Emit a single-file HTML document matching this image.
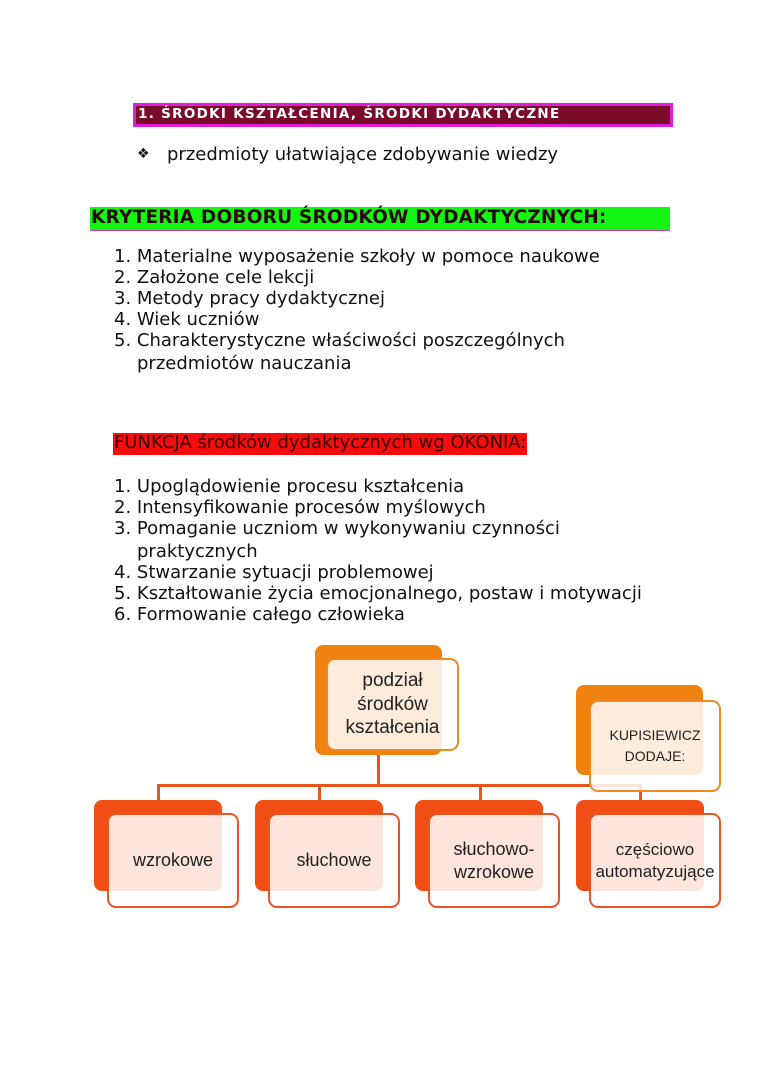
<!DOCTYPE html>
<html><head><meta charset="utf-8"><style>
body{margin:0;background:#fff;width:760px;height:1075px;position:relative;overflow:hidden;font-family:"DejaVu Sans",sans-serif;}
.a{position:absolute;white-space:nowrap;}
.t{font-size:18px;color:#111;}
.back{position:absolute;border-radius:8px;}
.front{position:absolute;border-radius:9px;border:2.5px solid;background:rgba(255,255,255,0.85);box-sizing:border-box;display:flex;align-items:center;justify-content:center;text-align:center;font-family:"Liberation Sans Narrow","Liberation Sans",sans-serif;font-size:18px;color:#222;line-height:1.25;}
.ln{position:absolute;background:#e8541e;}
</style></head><body>
<div class="a" style="left:133px;top:103px;width:540px;height:24px;box-sizing:border-box;border:3px solid #e01ce0;background:#7a0c2a;"></div>
<div class="a" style="left:138px;top:106px;font-size:13.5px;font-weight:bold;color:#fff;letter-spacing:1.3px;">1. ŚRODKI KSZTAŁCENIA, ŚRODKI DYDAKTYCZNE</div>
<div class="a t" style="left:137px;top:146px;font-size:14px;">❖</div>
<div class="a t" style="left:167px;top:144px;">przedmioty ułatwiające zdobywanie wiedzy</div>
<div class="a" style="left:90px;top:207px;width:580px;height:23px;background:#14f514;border-bottom:1px solid #c040c0;"></div>
<div class="a t" style="left:91px;top:207px;font-weight:bold;color:#2a0a0a;font-size:18.5px;letter-spacing:0.2px;">KRYTERIA DOBORU ŚRODKÓW DYDAKTYCZNYCH:</div>
<div class="a t" style="left:114px;top:246px;line-height:21px;">1. Materialne wyposażenie szkoły w pomoce naukowe<br>2. Założone cele lekcji<br>3. Metody pracy dydaktycznej<br>4. Wiek uczniów<br>5. Charakterystyczne właściwości poszczególnych</div>
<div class="a t" style="left:137px;top:353px;">przedmiotów nauczania</div>
<div class="a" style="left:113px;top:433px;width:414px;height:22px;background:#f50d0d;"></div>
<div class="a t" style="left:114px;top:432px;color:#3a0000;">FUNKCJA środków dydaktycznych wg OKONIA:</div>
<div class="a t" style="left:114px;top:476px;line-height:21px;">1. Upoglądowienie procesu kształcenia<br>2. Intensyfikowanie procesów myślowych<br>3. Pomaganie uczniom w wykonywaniu czynności</div>
<div class="a t" style="left:137px;top:541px;">praktycznych</div>
<div class="a t" style="left:114px;top:562px;line-height:21px;">4. Stwarzanie sytuacji problemowej<br>5. Kształtowanie życia emocjonalnego, postaw i motywacji<br>6. Formowanie całego człowieka</div>

<div class="ln" style="left:377px;top:750px;width:2.5px;height:36px;"></div>
<div class="ln" style="left:157px;top:784px;width:484px;height:2.5px;"></div>
<div class="ln" style="left:157px;top:784px;width:2.5px;height:16px;"></div>
<div class="ln" style="left:318px;top:784px;width:2.5px;height:16px;"></div>
<div class="ln" style="left:479px;top:784px;width:2.5px;height:16px;"></div>
<div class="ln" style="left:639px;top:784px;width:2.5px;height:16px;"></div>

<div class="back" style="left:315px;top:645px;width:127px;height:110px;background:#f0830f;"></div>
<div class="front" style="left:326px;top:658px;width:133px;height:93px;border-color:#f08a20;font-size:19px;">podział<br>środków<br>kształcenia</div>

<div class="back" style="left:576px;top:685px;width:127px;height:90px;background:#f0830f;"></div>
<div class="front" style="left:589px;top:700px;width:132px;height:92px;border-color:#f08a20;font-size:14px;line-height:1.5;">KUPISIEWICZ<br>DODAJE:</div>

<div class="back" style="left:94px;top:800px;width:128px;height:91px;background:#f04e14;"></div>
<div class="front" style="left:107px;top:813px;width:132px;height:95px;border-color:#e85520;">wzrokowe</div>
<div class="back" style="left:255px;top:800px;width:128px;height:91px;background:#f04e14;"></div>
<div class="front" style="left:268px;top:813px;width:132px;height:95px;border-color:#e85520;">słuchowe</div>
<div class="back" style="left:415px;top:800px;width:128px;height:91px;background:#f04e14;"></div>
<div class="front" style="left:428px;top:813px;width:132px;height:95px;border-color:#e85520;">słuchowo-<br>wzrokowe</div>
<div class="back" style="left:576px;top:800px;width:128px;height:91px;background:#f04e14;"></div>
<div class="front" style="left:589px;top:813px;width:132px;height:95px;border-color:#e85520;font-size:17px;">częściowo<br>automatyzujące</div>
</body></html>
